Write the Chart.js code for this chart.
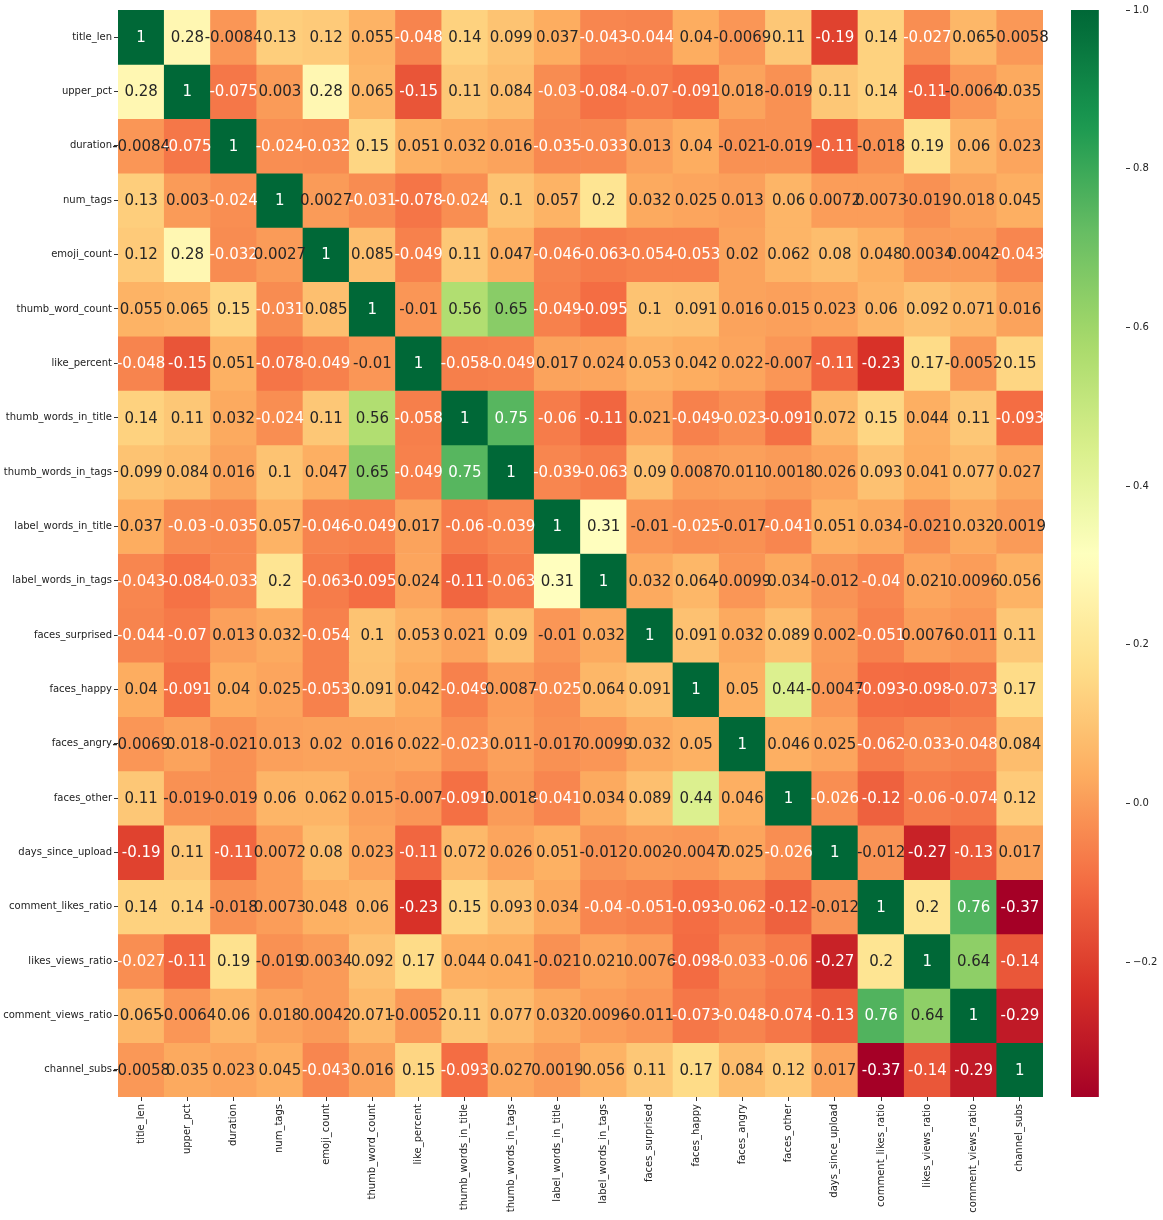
<!DOCTYPE html>
<html>
<head>
<meta charset="utf-8">
<script src="https://cdn.jsdelivr.net/npm/chart.js@4.4.1/dist/chart.umd.min.js"></script>
<style>
  html, body { margin: 0; padding: 0; background: #ffffff; }
  #wrap { position: relative; width: 1163px; height: 1220px; }
  #main { position: absolute; left: 0; top: 0; }
  #cbar { position: absolute; left: 1060px; top: 0; }
</style>
</head>
<body>
<div id="wrap">
  <canvas id="main" width="1163" height="1220"></canvas>
  <canvas id="cbar" width="103" height="1220"></canvas>
</div>
<script>
// ---------------- DATA ----------------
const variables = ['title_len','upper_pct','duration','num_tags','emoji_count','thumb_word_count','like_percent',
  'thumb_words_in_title','thumb_words_in_tags','label_words_in_title','label_words_in_tags','faces_surprised',
  'faces_happy','faces_angry','faces_other','days_since_upload','comment_likes_ratio','likes_views_ratio',
  'comment_views_ratio','channel_subs'];

const row_title_len            = [1, 0.28, -0.0084, 0.13, 0.12, 0.055, -0.048, 0.14, 0.099, 0.037, -0.043, -0.044, 0.04, -0.0069, 0.11, -0.19, 0.14, -0.027, 0.065, -0.0058];
const row_upper_pct            = [0.28, 1, -0.075, 0.003, 0.28, 0.065, -0.15, 0.11, 0.084, -0.03, -0.084, -0.07, -0.091, 0.018, -0.019, 0.11, 0.14, -0.11, -0.0064, 0.035];
const row_duration             = [-0.0084, -0.075, 1, -0.024, -0.032, 0.15, 0.051, 0.032, 0.016, -0.035, -0.033, 0.013, 0.04, -0.021, -0.019, -0.11, -0.018, 0.19, 0.06, 0.023];
const row_num_tags             = [0.13, 0.003, -0.024, 1, 0.0027, -0.031, -0.078, -0.024, 0.1, 0.057, 0.2, 0.032, 0.025, 0.013, 0.06, 0.0072, 0.0073, -0.019, 0.018, 0.045];
const row_emoji_count          = [0.12, 0.28, -0.032, 0.0027, 1, 0.085, -0.049, 0.11, 0.047, -0.046, -0.063, -0.054, -0.053, 0.02, 0.062, 0.08, 0.048, 0.0034, 0.0042, -0.043];
const row_thumb_word_count     = [0.055, 0.065, 0.15, -0.031, 0.085, 1, -0.01, 0.56, 0.65, -0.049, -0.095, 0.1, 0.091, 0.016, 0.015, 0.023, 0.06, 0.092, 0.071, 0.016];
const row_like_percent         = [-0.048, -0.15, 0.051, -0.078, -0.049, -0.01, 1, -0.058, -0.049, 0.017, 0.024, 0.053, 0.042, 0.022, -0.007, -0.11, -0.23, 0.17, -0.0052, 0.15];
const row_thumb_words_in_title = [0.14, 0.11, 0.032, -0.024, 0.11, 0.56, -0.058, 1, 0.75, -0.06, -0.11, 0.021, -0.049, -0.023, -0.091, 0.072, 0.15, 0.044, 0.11, -0.093];
const row_thumb_words_in_tags  = [0.099, 0.084, 0.016, 0.1, 0.047, 0.65, -0.049, 0.75, 1, -0.039, -0.063, 0.09, 0.0087, 0.011, 0.0018, 0.026, 0.093, 0.041, 0.077, 0.027];
const row_label_words_in_title = [0.037, -0.03, -0.035, 0.057, -0.046, -0.049, 0.017, -0.06, -0.039, 1, 0.31, -0.01, -0.025, -0.017, -0.041, 0.051, 0.034, -0.021, 0.032, 0.0019];
const row_label_words_in_tags  = [-0.043, -0.084, -0.033, 0.2, -0.063, -0.095, 0.024, -0.11, -0.063, 0.31, 1, 0.032, 0.064, -0.0099, 0.034, -0.012, -0.04, 0.021, 0.0096, 0.056];
const row_faces_surprised      = [-0.044, -0.07, 0.013, 0.032, -0.054, 0.1, 0.053, 0.021, 0.09, -0.01, 0.032, 1, 0.091, 0.032, 0.089, 0.002, -0.051, 0.0076, -0.011, 0.11];
const row_faces_happy          = [0.04, -0.091, 0.04, 0.025, -0.053, 0.091, 0.042, -0.049, 0.0087, -0.025, 0.064, 0.091, 1, 0.05, 0.44, -0.0047, -0.093, -0.098, -0.073, 0.17];
const row_faces_angry          = [-0.0069, 0.018, -0.021, 0.013, 0.02, 0.016, 0.022, -0.023, 0.011, -0.017, -0.0099, 0.032, 0.05, 1, 0.046, 0.025, -0.062, -0.033, -0.048, 0.084];
const row_faces_other          = [0.11, -0.019, -0.019, 0.06, 0.062, 0.015, -0.007, -0.091, 0.0018, -0.041, 0.034, 0.089, 0.44, 0.046, 1, -0.026, -0.12, -0.06, -0.074, 0.12];
const row_days_since_upload    = [-0.19, 0.11, -0.11, 0.0072, 0.08, 0.023, -0.11, 0.072, 0.026, 0.051, -0.012, 0.002, -0.0047, 0.025, -0.026, 1, -0.012, -0.27, -0.13, 0.017];
const row_comment_likes_ratio  = [0.14, 0.14, -0.018, 0.0073, 0.048, 0.06, -0.23, 0.15, 0.093, 0.034, -0.04, -0.051, -0.093, -0.062, -0.12, -0.012, 1, 0.2, 0.76, -0.37];
const row_likes_views_ratio    = [-0.027, -0.11, 0.19, -0.019, 0.0034, 0.092, 0.17, 0.044, 0.041, -0.021, 0.021, 0.0076, -0.098, -0.033, -0.06, -0.27, 0.2, 1, 0.64, -0.14];
const row_comment_views_ratio  = [0.065, -0.0064, 0.06, 0.018, 0.0042, 0.071, -0.0052, 0.11, 0.077, 0.032, 0.0096, -0.011, -0.073, -0.048, -0.074, -0.13, 0.76, 0.64, 1, -0.29];
const row_channel_subs         = [-0.0058, 0.035, 0.023, 0.045, -0.043, 0.016, 0.15, -0.093, 0.027, 0.0019, 0.056, 0.11, 0.17, 0.084, 0.12, 0.017, -0.37, -0.14, -0.29, 1];

const colorbarTicks = [-0.2, 0.0, 0.2, 0.4, 0.6, 0.8, 1.0];

// ---------------- BUILD ----------------
const matrix = [row_title_len, row_upper_pct, row_duration, row_num_tags, row_emoji_count, row_thumb_word_count,
  row_like_percent, row_thumb_words_in_title, row_thumb_words_in_tags, row_label_words_in_title,
  row_label_words_in_tags, row_faces_surprised, row_faces_happy, row_faces_angry, row_faces_other,
  row_days_since_upload, row_comment_likes_ratio, row_likes_views_ratio, row_comment_views_ratio, row_channel_subs];

const allVals = matrix.flat();
const vmin = Math.min(...allVals);
const vmax = Math.max(...allVals);

// RdYlGn colormap
const RDYLGN = ['#a50026','#d73027','#f46d43','#fdae61','#fee08b','#ffffbf','#d9ef8b','#a6d96a','#66bd63','#1a9850','#006837']
  .map(h => [parseInt(h.slice(1,3),16), parseInt(h.slice(3,5),16), parseInt(h.slice(5,7),16)]);
function cmapRGB(t) {
  t = Math.max(0, Math.min(1, t));
  const idx = Math.min(255, Math.floor(t * 256));
  t = idx / 255;
  const pos = t * 10;
  const i = Math.min(9, Math.floor(pos));
  const f = pos - i;
  const a = RDYLGN[i], b = RDYLGN[i + 1];
  return [0,1,2].map(k => a[k] + (b[k] - a[k]) * f);
}
function colorFor(v) {
  const c = cmapRGB((v - vmin) / (vmax - vmin));
  return `rgb(${c.map(x => Math.round(x)).join(',')})`;
}
function textColorFor(v) {
  const c = cmapRGB((v - vmin) / (vmax - vmin)).map(x => {
    x = x / 255;
    return x <= 0.03928 ? x / 12.92 : Math.pow((x + 0.055) / 1.055, 2.4);
  });
  const lum = 0.2126 * c[0] + 0.7152 * c[1] + 0.0722 * c[2];
  return lum > 0.408 ? '#262626' : '#ffffff';
}

const FONT = "'DejaVu Sans', 'Liberation Sans', sans-serif";

const datasets = matrix.map((row, r) => ({
  label: variables[r],
  data: row.map(() => 1),
  backgroundColor: row.map(v => colorFor(v)),
  borderWidth: 0,
  barPercentage: 1.0,
  categoryPercentage: 1.0,
  stack: 's'
}));

const annotatePlugin = {
  id: 'annotate',
  afterDatasetsDraw(chart) {
    const ctx = chart.ctx;
    ctx.save();
    ctx.font = `15px ${FONT}`;
    ctx.textAlign = 'center';
    ctx.textBaseline = 'middle';
    matrix.forEach((row, r) => {
      const meta = chart.getDatasetMeta(r);
      meta.data.forEach((el, c) => {
        const v = row[c];
        ctx.fillStyle = textColorFor(v);
        ctx.fillText(String(v), el.x, (el.y + el.base) / 2 + 1);
      });
    });
    ctx.restore();
  }
};

new Chart(document.getElementById('main'), {
  type: 'bar',
  data: { labels: variables, datasets },
  options: {
    responsive: false,
    animation: false,
    events: [],
    layout: { padding: { top: 10, right: 120, left: 0, bottom: 0 } },
    plugins: { legend: { display: false }, tooltip: { enabled: false } },
    scales: {
      x: {
        stacked: true,
        offset: true,
        grid: { display: true, offset: false, drawOnChartArea: false, drawTicks: true, tickLength: 4, color: '#333333' },
        border: { display: false },
        ticks: {
          autoSkip: false, minRotation: 90, maxRotation: 90, padding: 3,
          color: '#222222', font: { family: FONT, size: 10 }
        },
        afterFit(scale) { scale.height = 123; }
      },
      y: {
        stacked: true,
        reverse: true,
        min: 0,
        max: variables.length,
        grid: { display: true, drawOnChartArea: false, drawTicks: true, tickLength: 4, color: '#333333' },
        border: { display: false },
        afterBuildTicks(scale) {
          scale.ticks = variables.map((_, i) => ({ value: i + 0.5 }));
        },
        ticks: {
          autoSkip: false, padding: 2,
          color: '#222222', font: { family: FONT, size: 10 },
          callback: (value, index) => variables[index]
        },
        afterFit(scale) { scale.width = 118; }
      }
    }
  },
  plugins: [annotatePlugin]
});

// ---------------- COLORBAR ----------------
new Chart(document.getElementById('cbar'), {
  type: 'bar',
  data: {
    labels: ['colorbar'],
    datasets: [{
      data: [[vmin, vmax]],
      borderWidth: 0,
      barPercentage: 1.0,
      categoryPercentage: 1.0,
      backgroundColor(ctx) {
        const ca = ctx.chart.chartArea;
        if (!ca) return 'rgb(254,224,139)';
        const g = ctx.chart.ctx.createLinearGradient(0, ca.bottom, 0, ca.top);
        for (let i = 0; i <= 64; i++) {
          const t = i / 64;
          const c = cmapRGB(t).map(x => Math.round(x));
          g.addColorStop(t, `rgb(${c.join(',')})`);
        }
        return g;
      }
    }]
  },
  options: {
    responsive: false,
    animation: false,
    events: [],
    layout: { padding: { top: 10, left: 11, right: 0, bottom: 123 } },
    plugins: { legend: { display: false }, tooltip: { enabled: false } },
    scales: {
      x: { display: false, offset: false },
      y: {
        position: 'right',
        min: vmin,
        max: vmax,
        grid: { display: true, drawOnChartArea: false, drawTicks: true, tickLength: 4, color: '#333333' },
        border: { display: false },
        afterBuildTicks(scale) {
          scale.ticks = colorbarTicks.map(v => ({ value: v }));
        },
        ticks: {
          autoSkip: false, padding: 3,
          color: '#222222', font: { family: FONT, size: 10 },
          callback: (value) => value.toFixed(1).replace('-', '\u2212')
        },
        afterFit(scale) { scale.width = 37; }
      }
    }
  }
});
</script>
</body>
</html>
